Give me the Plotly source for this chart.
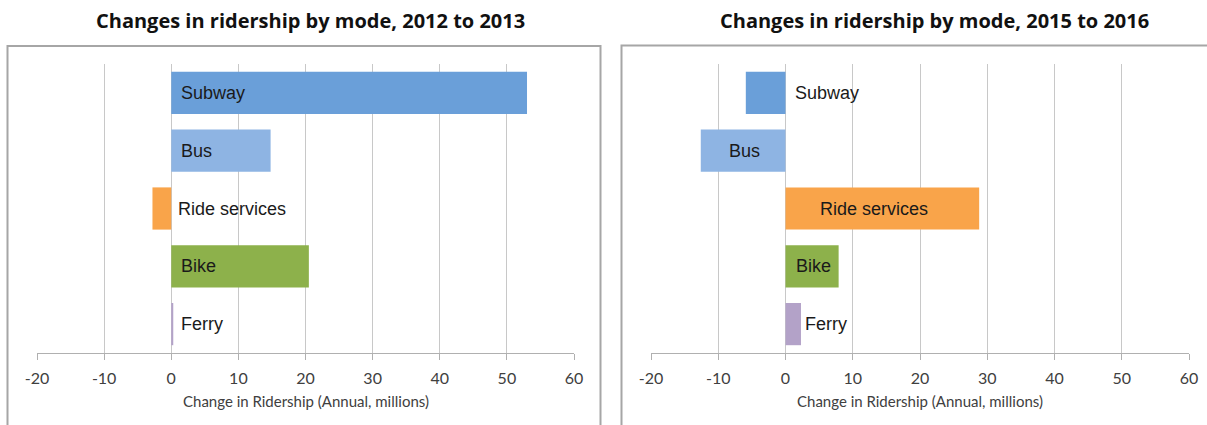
import plotly.graph_objects as go

modes = ["Subway", "Bus", "Ride services", "Bike", "Ferry"]
colors = ["#6a9fd9", "#8eb4e3", "#f9a44a", "#8db14b", "#b3a2c8"]
change_2012_2013 = [53.0, 14.8, -2.8, 20.5, 0.3]
change_2015_2016 = [-5.9, -12.6, 28.8, 7.9, 2.3]
titles = ["Changes in ridership by mode, 2012 to 2013",
          "Changes in ridership by mode, 2015 to 2016"]
x_ticks = [-20, -10, 0, 10, 20, 30, 40, 50, 60]
x_title = "Change in Ridership (Annual, millions)"

W, H = 1207, 425
fig = go.Figure()

fig.add_trace(go.Bar(y=modes, x=change_2012_2013, orientation="h",
                     marker=dict(color=colors, line=dict(width=0)),
                     xaxis="x", yaxis="y", showlegend=False, hoverinfo="x+y"))
fig.add_trace(go.Bar(y=modes, x=change_2015_2016, orientation="h",
                     marker=dict(color=colors, line=dict(width=0)),
                     xaxis="x2", yaxis="y2", showlegend=False, hoverinfo="x+y"))

label_font = dict(family="Liberation Sans, Arial", size=18, color="#1a1a1a")
annotations = []
# Left chart: all labels start just right of zero
for m, v in zip(modes, change_2012_2013):
    annotations.append(dict(x=0, y=m, xref="x", yref="y", text=m, showarrow=False,
                            xanchor="left", xshift=(5 if v < 0 else 8), font=label_font))
# Right chart: mixed placement
for m, v in zip(modes, change_2015_2016):
    if m == "Subway":
        a = dict(x=0, xanchor="left", xshift=7)
    elif m == "Ferry":
        a = dict(x=v, xanchor="left", xshift=2)
    elif m == "Ride services":
        a = dict(x=v / 2, xanchor="center", xshift=-8)
    else:
        a = dict(x=v / 2, xanchor="center", xshift=1)
    a.update(y=m, xref="x2", yref="y2", text=m, showarrow=False, font=label_font)
    annotations.append(a)

title_font = dict(family="Open Sans", size=20, color="#111111")
annotations.append(dict(x=310 / W, y=1 - 20 / H, xref="paper", yref="paper",
                        text="<b>" + titles[0] + "</b>", showarrow=False,
                        xanchor="center", yanchor="middle", font=title_font))
annotations.append(dict(x=934 / W, y=1 - 20 / H, xref="paper", yref="paper",
                        text="<b>" + titles[1] + "</b>", showarrow=False,
                        xanchor="center", yanchor="middle", font=title_font))
axis_title_font = dict(family="Lato, Open Sans", size=15, color="#404040")
annotations.append(dict(x=(37 + 574) / 2 / W, y=1 - 401 / H, xref="paper", yref="paper",
                        text=x_title, showarrow=False, xanchor="center", yanchor="middle",
                        font=axis_title_font))
annotations.append(dict(x=(651 + 1189) / 2 / W, y=1 - 401 / H, xref="paper", yref="paper",
                        text=x_title, showarrow=False, xanchor="center", yanchor="middle",
                        font=axis_title_font))

shapes = [
    dict(type="rect", xref="paper", yref="paper", x0=7.5 / W, x1=600.5 / W,
         y0=-0.1, y1=1 - 46 / H, line=dict(color="#a6a6a6", width=2)),
    dict(type="rect", xref="paper", yref="paper", x0=621.5 / W, x1=1.1,
         y0=-0.1, y1=1 - 45.5 / H, line=dict(color="#a6a6a6", width=2)),
]

y_dom = [1 - 353 / H, 1 - 64 / H]
xaxis_common = dict(range=[-20, 60], tickvals=x_ticks, ticktext=[str(t) for t in x_ticks],
                    showgrid=True, gridcolor="#c8c8c8", gridwidth=1,
                    zeroline=False, showline=True, linecolor="#b0b0b0", linewidth=1,
                    ticks="outside", ticklen=6, tickcolor="#b0b0b0",
                    ticklabelstandoff=5, automargin=False,
                    tickfont=dict(family="Lato, Open Sans", size=16, color="#404040"),
                    fixedrange=True)
yaxis_common = dict(autorange="reversed", showticklabels=False, showgrid=False,
                    zeroline=False, showline=False, ticks="", domain=y_dom,
                    automargin=False, fixedrange=True)

fig.update_layout(
    width=W, height=H,
    margin=dict(l=0, r=0, t=0, b=0, autoexpand=False),
    paper_bgcolor="white", plot_bgcolor="white",
    bargap=0.27,
    xaxis=dict(domain=[37 / W, 574 / W], anchor="y", **xaxis_common),
    yaxis=dict(anchor="x", **yaxis_common),
    xaxis2=dict(domain=[651 / W, 1189 / W], anchor="y2", **xaxis_common),
    yaxis2=dict(anchor="x2", **yaxis_common),
    annotations=annotations,
    shapes=shapes,
)

fig.write_html("out.html")
